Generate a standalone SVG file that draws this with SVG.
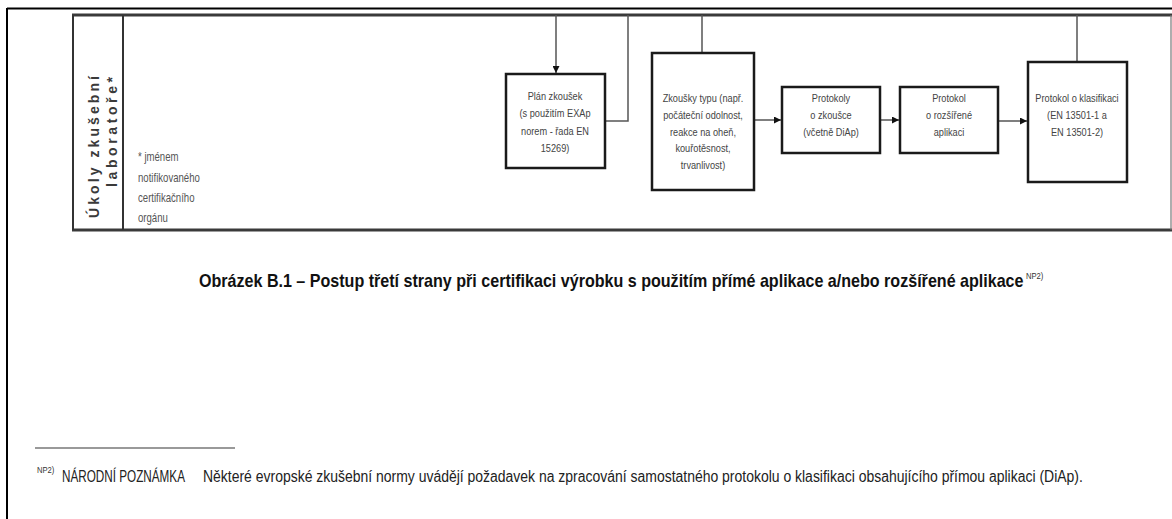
<svg xmlns="http://www.w3.org/2000/svg" width="1172" height="519" viewBox="0 0 1172 519">
<style>
.frame{fill:none;stroke:#000;stroke-width:2}
.tbl{fill:none;stroke:#3a3a3a;stroke-width:3}
.tblv{fill:none;stroke:#333;stroke-width:2}
.tblr{fill:none;stroke:#777;stroke-width:1.2}
.box{fill:#fff;stroke:#1a1a1a;stroke-width:2.5}
.conn{fill:none;stroke:#555;stroke-width:1.5}
.t{font-family:"Liberation Sans",Arial,sans-serif;font-size:11.5px;fill:#444;text-anchor:middle}
.note{font-family:"Liberation Sans",Arial,sans-serif;font-size:12px;fill:#555}
.lane{font-family:"Liberation Sans",Arial,sans-serif;font-size:14px;font-weight:bold;fill:#3a3a3a;text-anchor:end}
.cap{font-family:"Liberation Sans",Arial,sans-serif;font-size:18px;font-weight:bold;fill:#111}
.sup{font-family:"Liberation Sans",Arial,sans-serif;font-size:9px;fill:#333}
.foot{font-family:"Liberation Sans",Arial,sans-serif;font-size:16px;fill:#222}
</style>
<defs>
<marker id="ah" viewBox="0 0 10 10" refX="10" refY="5" markerWidth="7" markerHeight="7" markerUnits="userSpaceOnUse" orient="auto">
<path d="M0,0 L10,5 L0,10 z" fill="#111"/>
</marker>
</defs>
<rect width="1172" height="519" fill="#fff"/>

<g id="frame">
<line class="frame" x1="7" y1="8.5" x2="1172" y2="8.5"/>
<line class="frame" x1="7" y1="8" x2="7" y2="519"/>
</g>

<g id="table">
<line class="tbl" x1="72" y1="15" x2="1172" y2="15"/>
<line class="tbl" x1="72" y1="230" x2="1172" y2="230"/>
<line class="tblv" x1="73" y1="15" x2="73" y2="230"/>
<line class="tblv" x1="123" y1="15" x2="123" y2="230"/>
<line class="tblr" x1="1171" y1="15" x2="1171" y2="230"/>
<text class="lane" transform="translate(98.5,76) rotate(-90)" textLength="142" lengthAdjust="spacing">Úkoly zkušební</text>
<text class="lane" transform="translate(116.5,77) rotate(-90)" textLength="110" lengthAdjust="spacing">laboratoře*</text>
<g transform="translate(138,0) scale(0.8,1)">
<text class="note"><tspan x="0" y="161">* jménem</tspan><tspan x="0" y="182">notifikovaného</tspan><tspan x="0" y="202">certifikačního</tspan><tspan x="0" y="222">orgánu</tspan></text>
</g>
</g>

<g id="connectors">
<line class="conn" x1="556" y1="15" x2="556" y2="73" marker-end="url(#ah)"/>
<polyline class="conn" points="605,121 628,121 628,15"/>
<line class="conn" x1="702" y1="15" x2="702" y2="53"/>
<line class="conn" x1="1077" y1="15" x2="1077" y2="62"/>
<line class="conn" x1="754" y1="120" x2="781" y2="120" marker-end="url(#ah)"/>
<line class="conn" x1="880" y1="120" x2="899" y2="120" marker-end="url(#ah)"/>
<line class="conn" x1="998" y1="121" x2="1027" y2="121" marker-end="url(#ah)"/>
</g>

<g id="plan">
<rect class="box" x="506" y="74" width="99" height="94"/>
<g transform="translate(555,0) scale(0.8,1)">
<text class="t"><tspan x="0" y="100">Plán zkoušek</tspan><tspan x="0" y="117">(s použitím EXAp</tspan><tspan x="0" y="135">norem - řada EN</tspan><tspan x="0" y="152">15269)</tspan></text>
</g>
</g>

<g id="zkousky">
<rect class="box" x="652" y="53" width="102" height="137"/>
<g transform="translate(703,0) scale(0.8,1)">
<text class="t"><tspan x="0" y="102">Zkoušky typu (např.</tspan><tspan x="0" y="119">počáteční odolnost,</tspan><tspan x="0" y="136">reakce na oheň,</tspan><tspan x="0" y="152">kouřotěsnost,</tspan><tspan x="0" y="169">trvanlivost)</tspan></text>
</g>
</g>

<g id="protokoly">
<rect class="box" x="782" y="87" width="98" height="66"/>
<g transform="translate(831,0) scale(0.8,1)">
<text class="t"><tspan x="0" y="102">Protokoly</tspan><tspan x="0" y="119">o zkoušce</tspan><tspan x="0" y="136">(včetně DiAp)</tspan></text>
</g>
</g>

<g id="rozsirena">
<rect class="box" x="900" y="87" width="98" height="66"/>
<g transform="translate(949,0) scale(0.8,1)">
<text class="t"><tspan x="0" y="102">Protokol</tspan><tspan x="0" y="119">o rozšířené</tspan><tspan x="0" y="136">aplikaci</tspan></text>
</g>
</g>

<g id="klasifikace">
<rect class="box" x="1028" y="62" width="99" height="120"/>
<g transform="translate(1077,0) scale(0.8,1)">
<text class="t"><tspan x="0" y="102">Protokol o klasifikaci</tspan><tspan x="0" y="119">(EN 13501-1 a</tspan><tspan x="0" y="136">EN 13501-2)</tspan></text>
</g>
</g>

<g id="caption">
<g transform="translate(199,287) scale(0.85,1)">
<text class="cap" x="0" y="0" textLength="970" lengthAdjust="spacingAndGlyphs">Obrázek B.1 – Postup třetí strany při certifikaci výrobku s použitím přímé aplikace a/nebo rozšířené aplikace</text>
</g>
<g transform="translate(1026,279) scale(0.85,1)">
<text class="sup" x="0" y="0">NP2)</text>
</g>
</g>

<g id="footnote">
<line x1="35" y1="448" x2="235" y2="448" stroke="#999" stroke-width="2"/>
<g transform="translate(37,473) scale(0.85,1)">
<text class="sup" x="0" y="0" font-size="8">NP2)</text>
</g>
<g transform="translate(62,482) scale(0.82,1)">
<text class="foot" x="0" y="0" textLength="150" lengthAdjust="spacingAndGlyphs">NÁRODNÍ POZNÁMKA</text>
</g>
<g transform="translate(203,482) scale(0.82,1)">
<text class="foot" x="0" y="0" textLength="1073" lengthAdjust="spacingAndGlyphs">Některé evropské zkušební normy uvádějí požadavek na zpracování samostatného protokolu o klasifikaci obsahujícího přímou aplikaci (DiAp).</text>
</g>
</g>
</svg>
